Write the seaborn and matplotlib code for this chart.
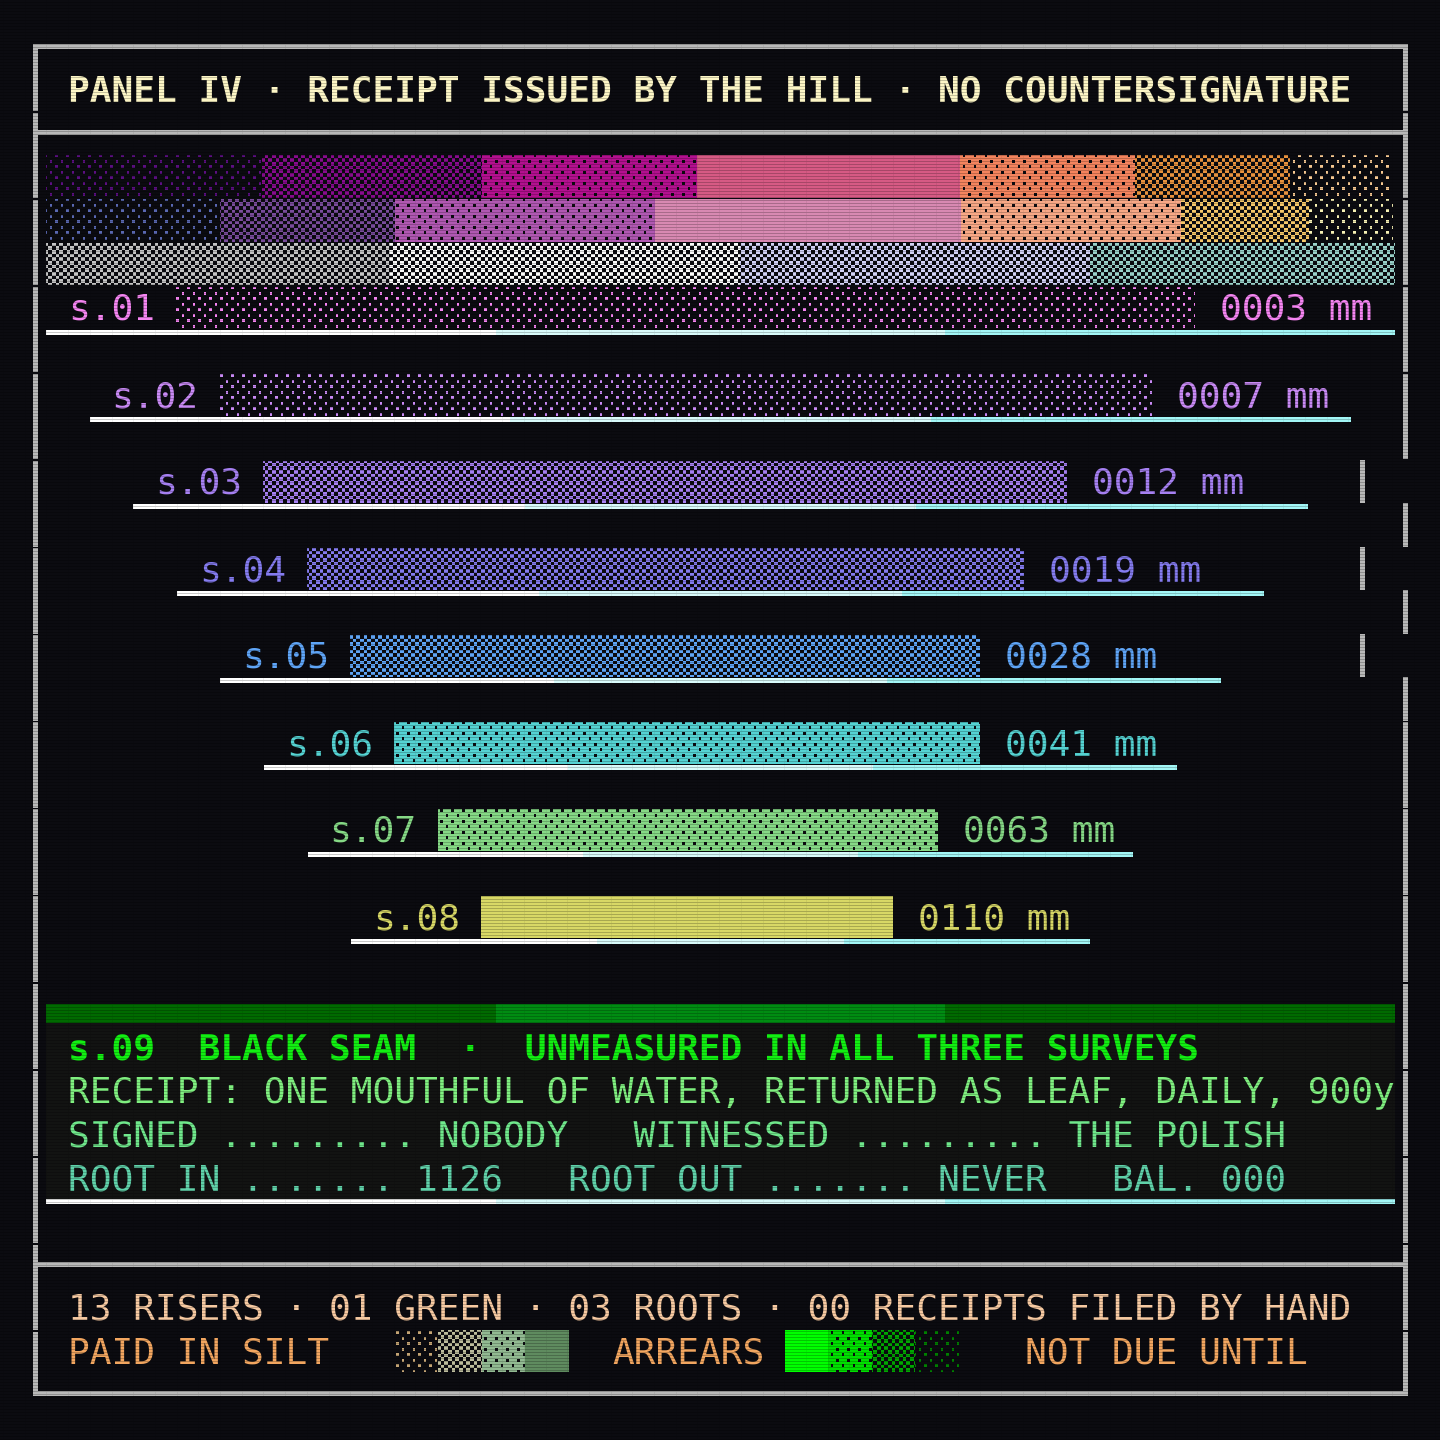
import numpy as np
import matplotlib
matplotlib.use("Agg")
import matplotlib.pyplot as plt
from matplotlib.colors import to_rgb
from matplotlib.patches import Rectangle
import seaborn as sns

# ---------------- data ----------------
title = "PANEL IV · RECEIPT ISSUED BY THE HILL · NO COUNTERSIGNATURE"

band1_widths = [216, 220, 215, 263, 175, 155, 102]
band1_colors = ["#5c0f82", "#880b8e", "#b3108f", "#d65a84", "#f4845e", "#e8923e", "#f6c892"]
band1_fills = ["sparse", "checker", "dense", "solid", "dense", "checker", "sparse"]

band2_widths = [174, 175, 260, 306, 220, 128, 84]
band2_colors = ["#5a68b2", "#7a4c9c", "#b058b2", "#d889b2", "#f8a886", "#f6c86a", "#f6f0b4"]
band2_fills = ["sparse", "checker", "dense", "solid", "dense", "checker", "sparse"]

band3_widths = [344, 350, 350, 305]
band3_colors = ["#c4c4c4", "#fafafa", "#d2d2f6", "#9ad2ca"]

seam_labels = ["s.01", "s.02", "s.03", "s.04", "s.05", "s.06", "s.07", "s.08"]
seam_mm = [3, 7, 12, 19, 28, 41, 63, 110]
seam_len = [1019, 932, 804, 717, 630, 586, 500, 412]
seam_colors = ["#f585f2", "#c98af5", "#a680f2", "#857cf0", "#5fa5f7", "#55d3d3", "#86d986", "#d8d866"]
seam_fills = ["sparse", "sparse", "checker", "checker", "checker", "dense", "dense", "solid"]

s09_lines = [
    "s.09  BLACK SEAM  ·  UNMEASURED IN ALL THREE SURVEYS",
    "RECEIPT: ONE MOUTHFUL OF WATER, RETURNED AS LEAF, DAILY, 900y",
    "SIGNED ......... NOBODY   WITNESSED ......... THE POLISH",
    "ROOT IN ....... 1126   ROOT OUT ....... NEVER   BAL. 000",
]
s09_colors = ["#12f012", "#80f080", "#70e88c", "#60d2aa"]
s09_strip_colors = ["#006a00", "#008c12", "#006a00"]

footer_line = "13 RISERS · 01 GREEN · 03 ROOTS · 00 RECEIPTS FILED BY HAND"
legend_words = ["PAID IN SILT", "ARREARS", "NOT DUE UNTIL"]
silt_colors = ["#c4a474", "#bcbc9c", "#92ba92", "#5f8b5f"]
silt_fills = ["sparse", "checker", "dense", "solid"]
arrears_colors = ["#00ff00", "#00e000", "#00a800", "#008000"]
arrears_fills = ["solid", "dense", "checker", "sparse"]
baseline_colors = ["#ffffff", "#d8fafa", "#a2f6f6"]

# ---------------- style ----------------
BG = "#0b0b10"
FRAME = "#b9b9b9"
sns.set_theme(style="dark", rc={"axes.facecolor": BG, "figure.facecolor": BG})
plt.rcParams["font.family"] = ["DejaVu Sans Mono", "DejaVu Sans"]
FS = 26
W = H = 1440
TX = 68  # left text origin

# dither masks on the pixel grid
X, Y = np.meshgrid(np.arange(W), np.arange(H))
cell = 5.5
cx, cy = np.floor(X / cell), np.floor(Y / cell)
fx, fy = X - cx * cell, Y - cy * cell
small = (fx < 2.2) & (fy < 3)
MASKS = {
    "sparse": (((cx + cy) % 2 == 0) & small).astype(float),
    "checker": (((np.floor(X / 3.667) + np.floor(Y / 3.667)) % 2) == 0).astype(float),
    "dense": (~(((cx + cy) % 2 == 1) & small)).astype(float),
    "solid": np.ones((H, W)),
}


def texture(ax, bars, colors, fills):
    # paint a dither texture inside each bar the library laid out
    for p, c, f in zip(bars.patches, colors, fills):
        x0 = int(round(p.get_x()))
        x1 = int(round(p.get_x() + p.get_width()))
        y0 = int(round(p.get_y()))
        y1 = int(round(p.get_y() + p.get_height()))
        m = MASKS[f][y0:y1, x0:x1]
        rgba = np.zeros(m.shape + (4,))
        rgba[..., :3] = to_rgb(c)
        rgba[..., 3] = m
        ax.imshow(rgba, extent=(x0, x1, y1, y0), interpolation="nearest", zorder=2)


def stacked(ax, yc, h, widths, left0, colors, fills):
    lefts = left0 + np.concatenate([[0], np.cumsum(widths)[:-1]])
    bars = ax.barh(yc, widths, left=lefts, height=h, color="none", linewidth=0)
    texture(ax, bars, colors, fills)


def baseline(ax, yc, x0, x1, colors):
    third = (x1 - x0) / 3
    ax.barh([yc] * 3, [third] * 3, left=[x0, x0 + third, x0 + 2 * third],
            height=5, color=colors, linewidth=0, zorder=3)


fig = plt.figure(figsize=(14.4, 14.4), dpi=100)
ax = fig.add_axes([0, 0, 1, 1])
ax.set_facecolor(BG)

# ---- frame ----
def frame_rect(x, y, w, h):
    ax.add_patch(Rectangle((x, y), w, h, color=FRAME, linewidth=0, zorder=3))

frame_rect(33, 44, 1375, 5)      # top
frame_rect(33, 1391, 1375, 5)    # bottom
frame_rect(33, 44, 5, 1352)      # left
frame_rect(33, 130, 1375, 5)     # under title
frame_rect(33, 1262, 1375, 5)    # above footer
# right side, with three rows slipped inward
for y0, y1 in [(44, 460), (503, 547), (590, 634), (677, 1396)]:
    frame_rect(1403, y0, 5, y1 - y0)
for y0, y1 in [(460, 503), (547, 590), (634, 677)]:
    frame_rect(1360, y0, 5, y1 - y0)
for yt in np.arange(111, 1340, 87.1):
    ax.add_patch(Rectangle((31, yt), 9, 1.5, color=BG, linewidth=0, zorder=3.5))
    ax.add_patch(Rectangle((1401, yt), 9, 1.5, color=BG, linewidth=0, zorder=3.5))

ax.text(TX, 102, title, fontsize=FS, fontweight="bold", color="#fdf6c6",
        va="baseline", ha="left", zorder=4)

# ---- palette bands ----
stacked(ax, 176.5, 43, band1_widths, 46, band1_colors, band1_fills)
stacked(ax, 220.5, 43, band2_widths, 46, band2_colors, band2_fills)
stacked(ax, 264, 42, band3_widths, 46, band3_colors, ["checker"] * 4)

# ---- seam rows ----
step = 43.6
for i, (lab, mm, ln, col, fil) in enumerate(zip(seam_labels, seam_mm, seam_len,
                                                  seam_colors, seam_fills)):
    yc = 308 + 87 * i
    row0 = 46 + step * i
    row1 = 1395 - step * i
    bars = ax.barh([yc], [ln], left=row0 + 130, height=42, color="none", linewidth=0)
    texture(ax, bars, [col], [fil])
    baseline(ax, yc + 24.5, row0, row1, baseline_colors)
    ax.text(row0 + 22, yc + 12, lab, fontsize=FS, color=col, va="baseline", zorder=4)
    end = bars.patches[0].get_x() + bars.patches[0].get_width()
    ax.text(end + 25, yc + 12, f"{mm:04d} mm", fontsize=FS, color=col,
            va="baseline", zorder=4)

# ---- s.09 block ----
ax.add_patch(Rectangle((46, 1023), 1349, 177, color="#121312", linewidth=0, zorder=1))
third = 1349 / 3
ax.barh([1013.5] * 3, [third] * 3, left=[46, 46 + third, 46 + 2 * third], height=19,
        color=s09_strip_colors, linewidth=0, zorder=2)
for k, (line, col) in enumerate(zip(s09_lines, s09_colors)):
    ax.text(TX, 1059 + 43.7 * k, line, fontsize=FS, color=col, va="baseline",
            fontweight="bold" if k == 0 else "normal", zorder=4)
baseline(ax, 1201.5, 46, 1395, baseline_colors)

# ---- footer ----
ax.text(TX, 1320, footer_line, fontsize=FS, color="#f7caa2", va="baseline", zorder=4)
for word, x in zip(legend_words, [TX, 612, 1025]):
    ax.text(x, 1364, word, fontsize=FS, color="#f2a660", va="baseline", zorder=4)
stacked(ax, 1351, 42, [43.4] * 4, 395, silt_colors, silt_fills)
stacked(ax, 1351, 42, [43.4] * 4, 785, arrears_colors, arrears_fills)

# ---- scanlines over everything ----
ov = np.zeros((H, W, 4))
ov[2::3, :, 3] = 0.22
cols = (np.arange(W) - 46) % 21.7 < 1
ov[:, cols, 3] = np.maximum(ov[:, cols, 3], 0.06)
ax.imshow(ov, extent=(0, W, H, 0), interpolation="nearest", zorder=10)

ax.set_xlim(0, W)
ax.set_ylim(H, 0)
ax.set_aspect("auto")
ax.axis("off")
fig.savefig("out.png", dpi=100, facecolor=BG)
